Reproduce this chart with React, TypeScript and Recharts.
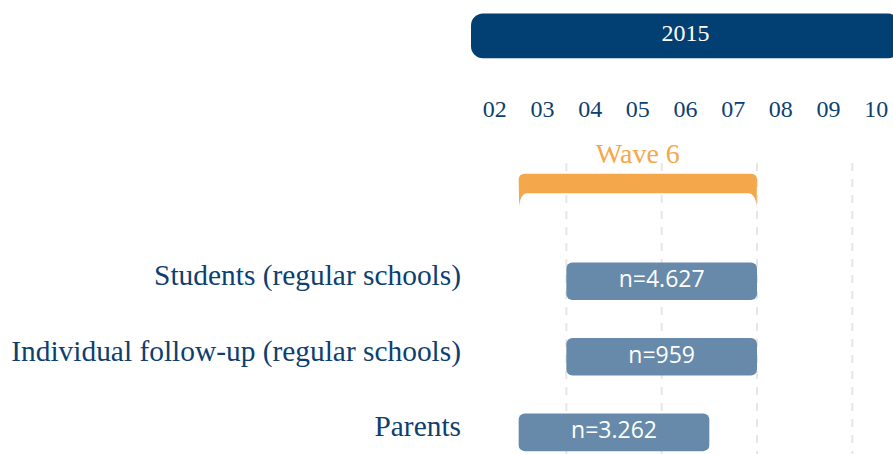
import React from "react";
import { BarChart, Bar, XAxis, YAxis, ReferenceLine, LabelList } from "recharts";

// ---- data ----
const yearLabel = "2015";
const yearSpan: [number, number] = [2, 11]; // Feb 1 .. Nov 1
const monthLabels = ["02", "03", "04", "05", "06", "07", "08", "09", "10"];
const waveLabel = "Wave 6";
const waveSpan: [number, number] = [3, 8]; // Mar 1 .. Aug 1
const groups = [
  "Students (regular schools)",
  "Individual follow-up (regular schools)",
  "Parents",
];
const groupStart = [4, 4, 3];
const groupEnd = [8, 8, 7];
const groupN = ["n=4.627", "n=959", "n=3.262"];
const gridMonths = [4, 6, 8, 10];

// ---- layout ----
const W = 900;
const H = 454;
const LEFT = 471;
const Y_DOMAIN: [number, number] = [-2.722, 3.291];
const YEAR_ROW = -2.25;
const WAVE_ROW = -0.2;
const GRID_TOP = -0.563;

const NAVY = "#023f72";
const TEXT = "#0d3f70";
const BAR = "#678aab";
const ORANGE = "#f5a84b";
const GRID = "#e6e6e6";
const SERIF = "'Liberation Serif', 'DejaVu Serif', serif";
const SANS = "'Open Sans', 'Noto Sans', sans-serif";

type Row = { kind: string; row: number; span: [number, number]; label: string; name?: string };

const table: Row[] = [
  { kind: "year", row: YEAR_ROW, span: yearSpan, label: yearLabel },
  { kind: "wave", row: WAVE_ROW, span: waveSpan, label: waveLabel },
  ...groups.map((g, i) => ({
    kind: "group",
    row: i + 1,
    span: [groupStart[i], groupEnd[i]] as [number, number],
    label: groupN[i],
    name: g,
  })),
];

const monthTicks = monthLabels.map((_, i) => 2.5 + i);
const groupTicks = groups.map((_, i) => i + 1);

const TimelineShape = (props: any) => {
  const { x, y, width, height, payload } = props;
  const cy = y + height / 2;
  if (payload.kind === "year") {
    const h = 44.6;
    return <rect x={x} y={cy - h / 2} width={width} height={h} rx={12} ry={12} fill={NAVY} />;
  }
  if (payload.kind === "wave") {
    const top = cy - 17;
    const band = 19.5;
    const tip = 33;
    const r = 6;
    const c = 9;
    const x1 = x;
    const x2 = x + width;
    const d = `M${x1 + 0.5},${top + tip} L${x1},${top + r} Q${x1},${top} ${x1 + r},${top} L${x2 - r},${top} Q${x2},${top} ${x2},${top + r} L${x2 - 0.5},${top + tip} Q${x2 - 1.5},${top + band} ${x2 - c},${top + band} L${x1 + c},${top + band} Q${x1 + 1.5},${top + band} ${x1 + 0.5},${top + tip} Z`;
    return <path d={d} fill={ORANGE} />;
  }
  const h = 37.7;
  return <rect x={x} y={cy - h / 2} width={width} height={h} rx={6} ry={6} fill={BAR} />;
};

const renderLabel = (props: any) => {
  const { x, y, width, height, value } = props;
  const row = table.find((r) => r.label === value);
  if (!row) return null;
  const cx = x + width / 2;
  const cy = y + height / 2;
  if (row.kind === "year") {
    return (
      <text x={cx} y={cy + 5} textAnchor="middle" fill="#ffffff" fontFamily={SERIF} fontSize={24}>
        {value}
      </text>
    );
  }
  if (row.kind === "wave") {
    return (
      <text x={cx} y={cy - 28} textAnchor="middle" fill={ORANGE} fontFamily={SERIF} fontSize={28}>
        {value}
      </text>
    );
  }
  return (
    <text x={cx} y={cy + 6} textAnchor="middle" fill="#ffffff" fontFamily={SANS} fontSize={23}>
      {value}
    </text>
  );
};

const MonthTick = (props: any) => {
  const { x, y, payload, index } = props;
  return (
    <text x={x} y={y + 117} textAnchor="middle" fill={TEXT} fontFamily={SERIF} fontSize={24}>
      {monthLabels[index] ?? String(Math.floor(payload.value)).padStart(2, "0")}
    </text>
  );
};

const GroupTick = (props: any) => {
  const { x, y, payload } = props;
  const row = table.find((r) => r.kind === "group" && r.row === payload.value);
  return (
    <text x={x} y={y + 4} textAnchor="end" fill={TEXT} fontFamily={SERIF} fontSize={29.4}>
      {row ? row.name : ""}
    </text>
  );
};

export default function App() {
  return (
    <div style={{ position: "absolute", left: 0, top: 0, width: 893, height: H, overflow: "hidden", background: "#fff" }}>
      <BarChart
        width={W}
        height={H}
        data={table}
        layout="vertical"
        margin={{ top: 0, right: 0, bottom: 0, left: 0 }}
      >
        <XAxis
          type="number"
          orientation="top"
          mirror
          domain={[yearSpan[0], yearSpan[1]]}
          ticks={monthTicks}
          interval={0}
          axisLine={false}
          tickLine={false}
          tickSize={0}
          tickMargin={0}
          tick={<MonthTick />}
          allowDataOverflow
        />
        <YAxis
          type="number"
          dataKey="row"
          domain={Y_DOMAIN}
          ticks={groupTicks}
          interval={0}
          width={LEFT}
          axisLine={false}
          tickLine={false}
          tickSize={0}
          tickMargin={10}
          tick={<GroupTick />}
        />
        {gridMonths.map((m) => (
          <ReferenceLine
            key={m}
            segment={[
              { x: m, y: GRID_TOP },
              { x: m, y: Y_DOMAIN[1] },
            ]}
            stroke={GRID}
            strokeWidth={2}
            strokeDasharray="8 8"
            ifOverflow="visible"
            zIndex={-10}
          />
        ))}
        <Bar dataKey="span" barSize={38} shape={<TimelineShape />} isAnimationActive={false} zIndex={300}>
          <LabelList dataKey="label" content={renderLabel} />
        </Bar>
      </BarChart>
    </div>
  );
}
